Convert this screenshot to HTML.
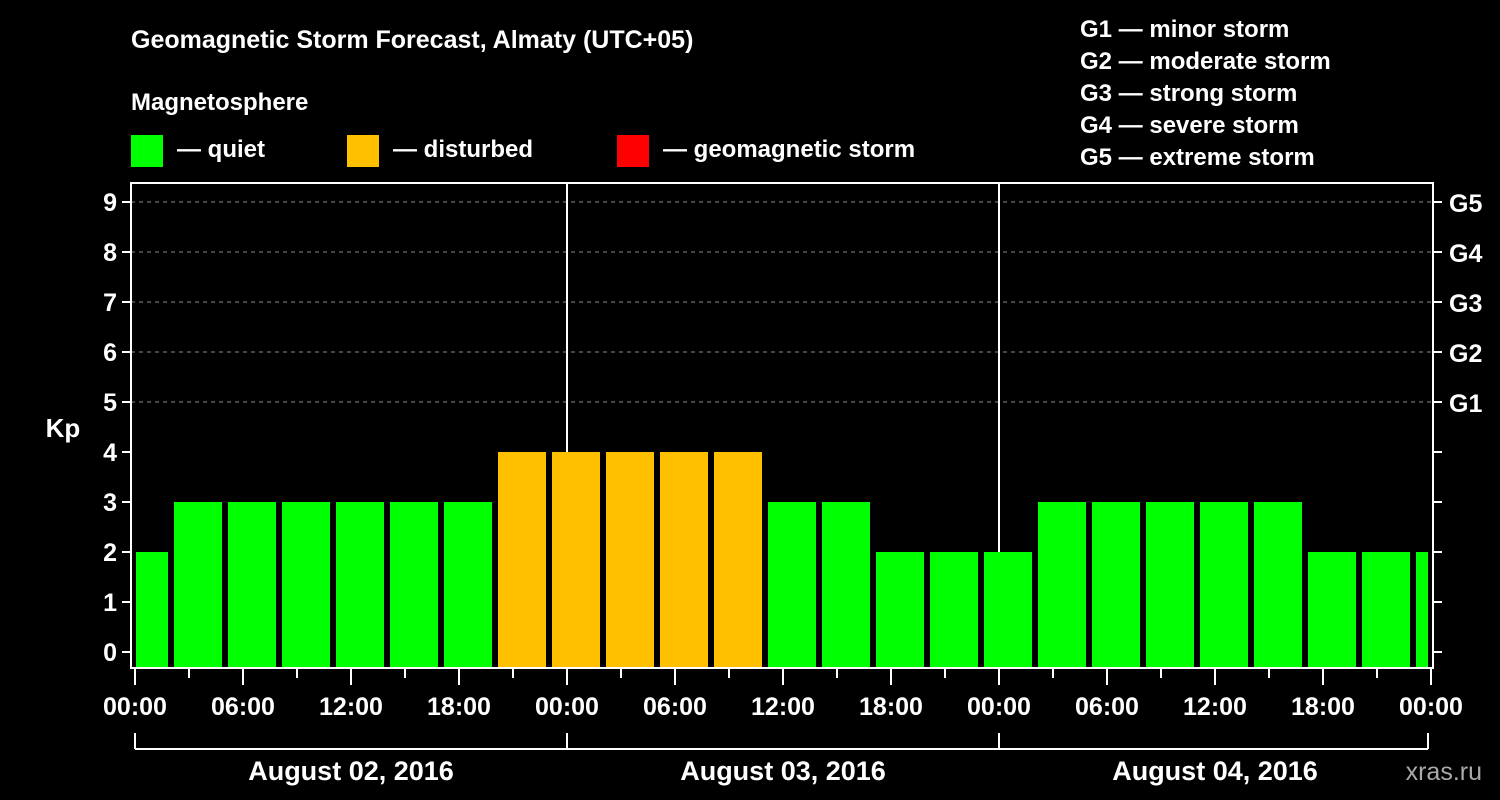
<!DOCTYPE html>
<html><head><meta charset="utf-8"><style>
body{margin:0;background:#000;}
svg{display:block;font-family:"Liberation Sans",sans-serif;font-weight:bold;}
</style></head><body>
<svg id="chart" width="1500" height="800" viewBox="0 0 1500 800">
<rect width="1500" height="800" fill="#000"/>
<text x="131" y="48" fill="#fff" font-size="25">Geomagnetic Storm Forecast, Almaty (UTC+05)</text>
<text x="131" y="110" fill="#fff" font-size="24">Magnetosphere</text>
<g><rect x="131" y="135" width="32" height="32" fill="#00ff00"/><text x="177" y="157" fill="#fff" font-size="24">— quiet</text></g>
<g><rect x="347" y="135" width="32" height="32" fill="#ffc000"/><text x="393" y="157" fill="#fff" font-size="24">— disturbed</text></g>
<g><rect x="617" y="135" width="32" height="32" fill="#ff0000"/><text x="663" y="157" fill="#fff" font-size="24">— geomagnetic storm</text></g>
<g fill="#fff" font-size="24">
<text x="1080" y="37">G1 — minor storm</text>
<text x="1080" y="69">G2 — moderate storm</text>
<text x="1080" y="101">G3 — strong storm</text>
<text x="1080" y="133">G4 — severe storm</text>
<text x="1080" y="165">G5 — extreme storm</text>
</g>
<text x="63" y="437" fill="#fff" font-size="26" text-anchor="middle">Kp</text>
<text x="1482" y="780" fill="#aaa" font-size="25" font-weight="normal" text-anchor="end">xras.ru</text>
<g id="grid"></g><g id="bars"></g><g id="axes"></g>
</svg>
<script>
const kpValues=[2,3,3,3,3,3,3,4,4,4,4,4,3,3,2,2,2,3,3,3,3,3,2,2,2];
const barStartHours=[-1,2,5,8,11,14,17,20,23,26,29,32,35,38,41,44,47,50,53,56,59,62,65,68,71];
const dayLabels=["August 02, 2016","August 03, 2016","August 04, 2016"];
const yTicks=[0,1,2,3,4,5,6,7,8,9];
const gLabels=["G1","G2","G3","G4","G5"];
const gLevels=[5,6,7,8,9];
const hourTickLabels=["00:00","06:00","12:00","18:00"];
const L=131,R=1433,T=183,B=668,X0=135,PXH=18;
const xs=h=>X0+h*PXH, ys=v=>652-v*50;
const NS="http://www.w3.org/2000/svg";
function mk(tag,attrs,parent,txt){const e=document.createElementNS(NS,tag);for(const k in attrs)e.setAttribute(k,attrs[k]);if(txt!==undefined)e.textContent=txt;document.getElementById(parent).appendChild(e);return e;}
yTicks.forEach(v=>{if(v>=5){const g=mk('line',{x1:L,x2:R,y1:ys(v),y2:ys(v),stroke:'#888','stroke-dasharray':'4 4','stroke-width':1},'grid');

}});
[24,48].forEach(h=>{const l=mk('line',{x1:xs(h),x2:xs(h),y1:T,y2:B,stroke:'#fff','stroke-width':2},'grid');

});
kpValues.forEach((v,i)=>{let a=xs(barStartHours[i])+3,b=xs(barStartHours[i]+3)-3;a=Math.max(a,L+5);b=Math.min(b,R-5);
const col=v>=5?'#ff0000':(v>=4?'#ffc000':'#00ff00');
const r=mk('rect',{x:a,y:ys(v),width:b-a,height:B-ys(v),fill:col},'bars');

});
const f=mk('rect',{x:L,y:T,width:R-L,height:B-T,fill:'none',stroke:'#fff','stroke-width':2},'axes');


yTicks.forEach(v=>{mk('line',{x1:L-9,x2:L,y1:ys(v),y2:ys(v),stroke:'#fff','stroke-width':2},'axes');
mk('line',{x1:R,x2:R+9,y1:ys(v),y2:ys(v),stroke:'#fff','stroke-width':2},'axes');
const t=mk('text',{x:L-14,y:ys(v)+9,fill:'#fff','font-size':25,'text-anchor':'end'},'axes',String(v));

});
gLevels.forEach((v,i)=>{const t=mk('text',{x:1449,y:ys(v)+10,fill:'#fff','font-size':25},'axes',gLabels[i]);

});
for(let h=0;h<=72;h+=3){const major=h%6===0;mk('line',{x1:xs(h),x2:xs(h),y1:B,y2:B+(major?17:10),stroke:'#fff','stroke-width':2},'axes');
if(major){const t=mk('text',{x:xs(h),y:715,fill:'#fff','font-size':25,'text-anchor':'middle'},'axes',hourTickLabels[(h%24)/6]);

}}
mk('line',{x1:xs(0),x2:xs(72)-3,y1:749,y2:749,stroke:'#fff','stroke-width':2},'axes');
[0,24,48].forEach(h=>mk('line',{x1:xs(h),x2:xs(h),y1:733,y2:749,stroke:'#fff','stroke-width':2},'axes'));
mk('line',{x1:xs(72)-3,x2:xs(72)-3,y1:733,y2:749,stroke:'#fff','stroke-width':2},'axes');
dayLabels.forEach((d,i)=>{const t=mk('text',{x:xs(i*24+12),y:780,fill:'#fff','font-size':27,'text-anchor':'middle'},'axes',d);

});
</script>
</body></html>
